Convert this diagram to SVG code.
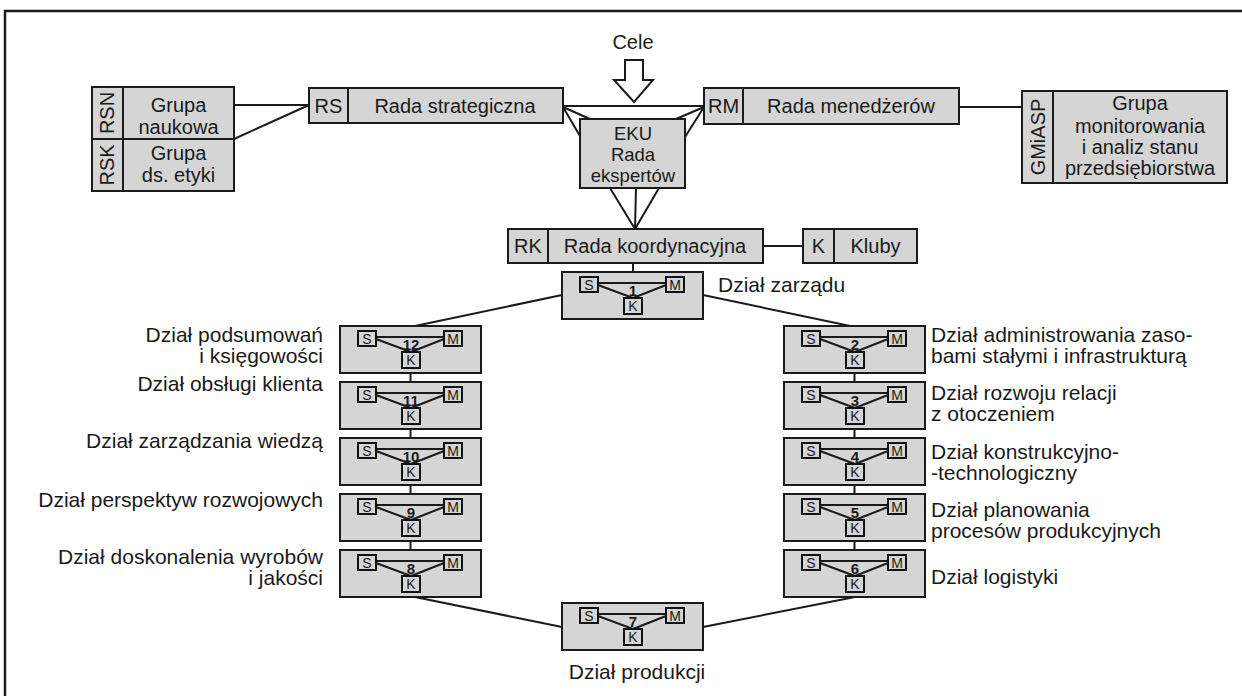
<svg xmlns="http://www.w3.org/2000/svg" xmlns:xlink="http://www.w3.org/1999/xlink" width="1242" height="696" viewBox="0 0 1242 696">
<style>
.box{fill:#d5d5d5;stroke:#1a1a1a;stroke-width:2}
.sq{fill:#d5d5d5;stroke:#111;stroke-width:2}
.ln{stroke:#1a1a1a;stroke-width:2;fill:none}
.t{font-family:"Liberation Sans",Arial,sans-serif;font-size:20px;fill:#1a1a1a}
.lb{font-size:21px}
.c{text-anchor:middle}
.e{text-anchor:end}
.sm{font-size:14px}
.num{font-size:15px;font-weight:bold}
</style>
<defs>
<g id="dept">
<rect class="box" x="0" y="0" width="141" height="47"/>
<path class="ln" d="M36,11H104M36,13L71,26M104,13L71,26"/>
<rect class="sq" x="18" y="5" width="18" height="15"/>
<rect class="sq" x="104" y="5" width="18" height="15"/>
<rect class="sq" x="62" y="26" width="18" height="16"/>
<text class="t c sm" x="27" y="17.8">S</text>
<text class="t c sm" x="113" y="17.8">M</text>
<text class="t c sm" x="71" y="39.2">K</text>
</g>
</defs>
<rect width="1242" height="696" fill="#fff"/>
<path d="M5,700V11H1250" fill="none" stroke="#1a1a1a" stroke-width="2.5"/>

<g id="connectors">
<path class="ln" d="M234,105H309M234,139L309,105"/>
<path class="ln" d="M563,106H704"/>
<path class="ln" d="M563,107L590,119M563,107L580,136M704,107L676,119M704,107L685,137"/>
<path class="ln" d="M959,107H1022"/>
<path class="ln" d="M610,188L635,229M636,188L635,229M659,188L635,229"/>
<path class="ln" d="M763,246H803"/>
<path class="ln" d="M633,263V272"/>
<path class="ln" d="M562,295L415,326M703,295L855,327"/>
<path class="ln" d="M415,597L562,627M855,597L703,627"/>
<path class="ln" d="M410.5,373V382M410.5,429V438M410.5,485V494M410.5,541V550"/>
<path class="ln" d="M854.5,373V382M854.5,429V438M854.5,485V494M854.5,541V550"/>
</g>

<g id="cele">
<text class="t c" x="633" y="49">Cele</text>
<polygon points="625,60 643,60 643,80 653,80 634,102 614,80 625,80" fill="#fff" stroke="#1a1a1a" stroke-width="2"/>
</g>

<g id="rsn-rsk">
<rect class="box" x="92" y="87" width="142" height="52"/>
<rect class="box" x="92" y="139" width="142" height="52"/>
<path class="ln" d="M123,87V191"/>
<text class="t c" transform="translate(114,113) rotate(-90)">RSN</text>
<text class="t c" transform="translate(114,165) rotate(-90)">RSK</text>
<text class="t c" x="178.5" y="112">Grupa</text>
<text class="t c" x="178.5" y="134">naukowa</text>
<text class="t c" x="178.5" y="160">Grupa</text>
<text class="t c" x="178.5" y="182">ds. etyki</text>
</g>

<g id="rs">
<rect class="box" x="309" y="88" width="254" height="35"/>
<path class="ln" d="M348,88V123"/>
<text class="t c" x="328.5" y="113">RS</text>
<text class="t c" x="455" y="113">Rada strategiczna</text>
</g>

<g id="rm">
<rect class="box" x="704" y="88" width="255" height="36"/>
<path class="ln" d="M743,88V124"/>
<text class="t c" x="723.5" y="113">RM</text>
<text class="t c" x="851" y="113">Rada menedżerów</text>
</g>

<g id="gmiasp">
<rect class="box" x="1022" y="91" width="205" height="92"/>
<path class="ln" d="M1053,91V183"/>
<text class="t c" transform="translate(1045,137) rotate(-90)">GMiASP</text>
<text class="t c" x="1140" y="110">Grupa</text>
<text class="t c" x="1140" y="133">monitorowania</text>
<text class="t c" x="1140" y="154">i analiz stanu</text>
<text class="t c" x="1140" y="175">przedsiębiorstwa</text>
</g>

<g id="eku">
<rect class="box" x="580" y="119" width="105" height="69"/>
<text class="t c" x="633" y="140" style="font-size:18.5px">EKU</text>
<text class="t c" x="633" y="161" style="font-size:18.5px">Rada</text>
<text class="t c" x="633" y="182" style="font-size:18.5px">ekspertów</text>
</g>

<g id="rk">
<rect class="box" x="508" y="229" width="255" height="34"/>
<path class="ln" d="M548,229V263"/>
<text class="t c" x="528" y="253">RK</text>
<text class="t c" x="655" y="253">Rada koordynacyjna</text>
</g>

<g id="kluby">
<rect class="box" x="803" y="229" width="114" height="34"/>
<path class="ln" d="M834,229V263"/>
<text class="t c" x="818.5" y="253">K</text>
<text class="t c" x="875.5" y="253">Kluby</text>
</g>

<g id="d1"><use xlink:href="#dept" x="562" y="272"/><text class="t c num" x="633" y="296">1</text>
<text class="t lb" x="718" y="292">Dział zarządu</text></g>

<g id="d12"><use xlink:href="#dept" x="340" y="326"/><text class="t c num" x="411" y="350">12</text>
<text class="t e lb" x="323" y="342">Dział podsumowań</text><text class="t e lb" x="323" y="363">i księgowości</text></g>
<g id="d11"><use xlink:href="#dept" x="340" y="382"/><text class="t c num" x="411" y="406">11</text>
<text class="t e lb" x="323" y="391">Dział obsługi klienta</text></g>
<g id="d10"><use xlink:href="#dept" x="340" y="438"/><text class="t c num" x="411" y="462">10</text>
<text class="t e lb" x="323" y="448">Dział zarządzania wiedzą</text></g>
<g id="d9"><use xlink:href="#dept" x="340" y="494"/><text class="t c num" x="411" y="518">9</text>
<text class="t e lb" x="323" y="507">Dział perspektyw rozwojowych</text></g>
<g id="d8"><use xlink:href="#dept" x="340" y="550"/><text class="t c num" x="411" y="574">8</text>
<text class="t e lb" x="323" y="564">Dział doskonalenia wyrobów</text><text class="t e lb" x="323" y="585">i jakości</text></g>

<g id="d2"><use xlink:href="#dept" x="784" y="326"/><text class="t c num" x="855" y="350">2</text>
<text class="t lb" x="931" y="342">Dział administrowania zaso-</text><text class="t lb" x="931" y="363">bami stałymi i infrastrukturą</text></g>
<g id="d3"><use xlink:href="#dept" x="784" y="382"/><text class="t c num" x="855" y="406">3</text>
<text class="t lb" x="931" y="400">Dział rozwoju relacji</text><text class="t lb" x="931" y="421">z otoczeniem</text></g>
<g id="d4"><use xlink:href="#dept" x="784" y="438"/><text class="t c num" x="855" y="462">4</text>
<text class="t lb" x="931" y="459">Dział konstrukcyjno-</text><text class="t lb" x="931" y="480">-technologiczny</text></g>
<g id="d5"><use xlink:href="#dept" x="784" y="494"/><text class="t c num" x="855" y="518">5</text>
<text class="t lb" x="931" y="517">Dział planowania</text><text class="t lb" x="931" y="538">procesów produkcyjnych</text></g>
<g id="d6"><use xlink:href="#dept" x="784" y="550"/><text class="t c num" x="855" y="574">6</text>
<text class="t lb" x="931" y="584">Dział logistyki</text></g>

<g id="d7"><use xlink:href="#dept" x="562" y="603"/><text class="t c num" x="633" y="627">7</text>
<text class="t c lb" x="637" y="679">Dział produkcji</text></g>
</svg>
